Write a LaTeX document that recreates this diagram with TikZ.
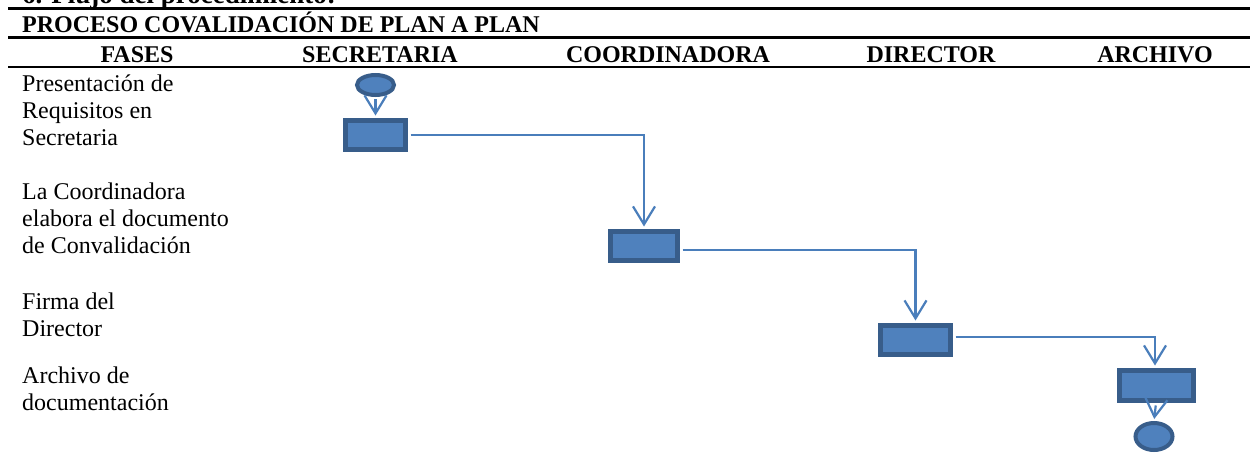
\documentclass[tikz,border=0pt]{standalone}
\usepackage{fontspec}
\setmainfont{Liberation Serif}
\usetikzlibrary{arrows.meta,shapes.geometric}
\definecolor{shapefill}{HTML}{4F81BD}
\definecolor{shapeedge}{HTML}{385D8A}
\definecolor{linkcol}{HTML}{4A7EBB}
\begin{document}
\begin{tikzpicture}[x=1pt,y=-1pt,
  rule/.style={line width=2.3pt},
  sectitle/.style={font=\fontsize{27}{30}\selectfont\bfseries, anchor=base west, inner sep=0},
  head/.style={font=\fontsize{24}{26}\selectfont\bfseries, anchor=base, inner sep=0},
  phase/.style={font=\fontsize{24}{26.7}\selectfont, anchor=base west, align=left, inner sep=0},
  task/.style={rectangle, draw=shapeedge, fill=shapefill, line width=5pt, inner sep=0},
  terminal/.style={ellipse, draw=shapeedge, fill=shapefill, line width=4pt, inner sep=0},
  flow/.style={draw=linkcol, line width=2.2pt, shorten <=2.5pt, shorten >=2.5pt,
    -{Straight Barb[length=18pt,width=22pt,line width=2.2pt]}}
]
\path[use as bounding box] (0,0) rectangle (1250,453);
\clip (0,0) rectangle (1250,453);

% section heading (runs off the top edge)
\node[sectitle] (sec) at (22,3.5) {6. Flujo del procedimiento:};

% table rules
\draw[rule] (8,8.5) -- (1250,8.5);
\draw[rule] (8,37.5) -- (1250,37.5);
\draw[rule] (8,67) -- (1250,67);

% table title and column headers
\node[head, anchor=base west] (title) at (22,32.5) {PROCESO COVALIDACIÓN DE PLAN A PLAN};
\node[head] (hfases) at (137,62) {FASES};
\node[head] (hsec)   at (380,62) {SECRETARIA};
\node[head] (hcoord) at (668,62) {COORDINADORA};
\node[head] (hdir)   at (931,62) {DIRECTOR};
\node[head] (harch)  at (1155,62) {ARCHIVO};

% phase descriptions (placed by the baseline of their last line)
\node[phase] (p1) at (22,145) {Presentación de\\Requisitos en\\Secretaria};
\node[phase] (p2) at (22,253) {La Coordinadora\\elabora el documento\\de Convalidación};
\node[phase] (p3) at (22,336) {Firma del\\Director};
\node[phase] (p4) at (22,410) {Archivo de\\documentación};

% flow shapes
\node[terminal, minimum width=37pt, minimum height=20pt] (start) at (375.5,85) {};
\node[task, minimum width=60pt, minimum height=29pt] (r1) at (375.5,135) {};
\node[task, minimum width=67pt, minimum height=29pt] (r2) at (644,246) {};
\node[task, minimum width=70pt, minimum height=29pt] (r3) at (915.5,340) {};
\node[task, minimum width=74pt, minimum height=30pt] (r4) at (1156,385.5) {};
\node[terminal, minimum width=37pt, minimum height=27pt] (stop) at (1154,436.5) {};

% connectors
\draw[flow, shorten <=2pt] (start) -- (r1);
\draw[flow] (r1.east) -| (r2.north);
\draw[flow] ([yshift=-4pt]r2.east) -| (r3.north);
\draw[flow] ([yshift=3pt]r3.east) -| ([xshift=-1pt]r4.north);
\draw[flow, shorten >=2pt] (r4.south) -- (stop.north);
\end{tikzpicture}
\end{document}
